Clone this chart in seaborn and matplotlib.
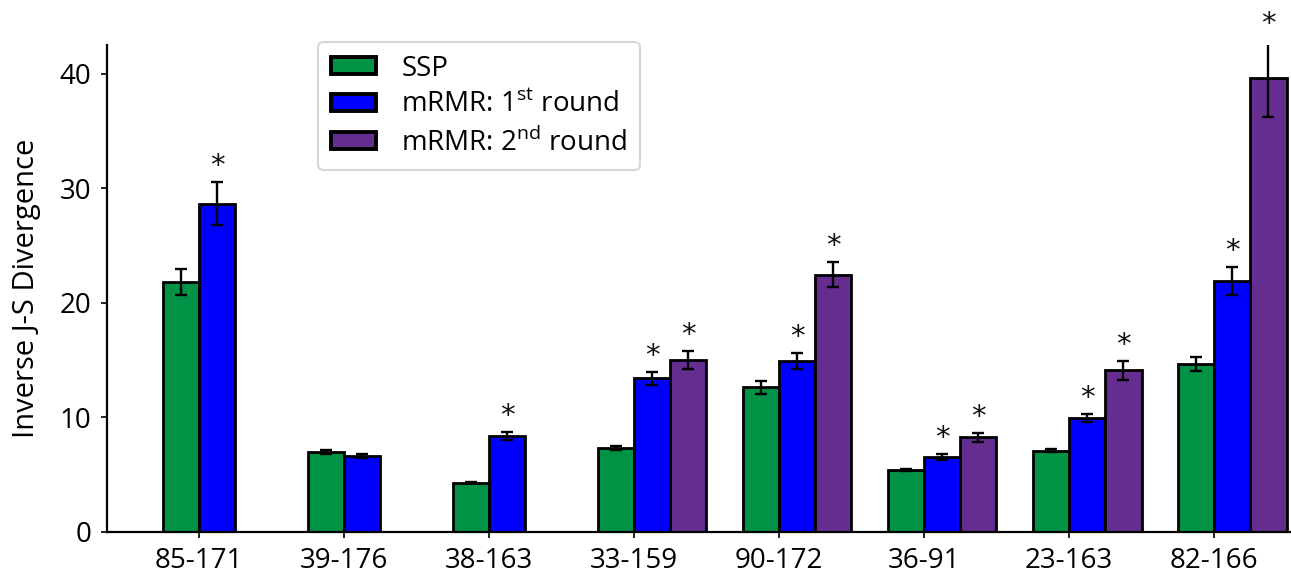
import numpy as np
import pandas as pd
import matplotlib
matplotlib.use("Agg")
import matplotlib.pyplot as plt
import matplotlib.colors as mcolors
import seaborn as sns
from matplotlib.patches import Patch

categories = ["85-171", "39-176", "38-163", "33-159", "90-172", "36-91", "23-163", "82-166"]
methods = ["SSP", "mRMR: 1st round", "mRMR: 2nd round"]
ssp_vals = [21.8, 6.96, 4.3, 7.33, 12.65, 5.38, 7.1, 14.65]
ssp_err = [1.15, 0.18, 0.06, 0.18, 0.57, 0.1, 0.15, 0.6]
r1_vals = [28.65, 6.66, 8.42, 13.4, 14.93, 6.57, 9.93, 21.9]
r1_err = [1.9, 0.18, 0.35, 0.6, 0.73, 0.27, 0.37, 1.25]
r2_vals = [np.nan, np.nan, np.nan, 15.0, 22.45, 8.27, 14.1, 39.6]
r2_err = [np.nan, np.nan, np.nan, 0.8, 1.1, 0.4, 0.86, 3.35]
r1_sig = [True, False, True, True, True, True, True, True]
r2_sig = [False, False, False, True, True, True, True, True]

colors = ["#009245", "#0000FF", "#662D91"]

rows = []
for i, c in enumerate(categories):
    for m, v, e, s in zip(methods,
                          [ssp_vals[i], r1_vals[i], r2_vals[i]],
                          [ssp_err[i], r1_err[i], r2_err[i]],
                          [False, r1_sig[i], r2_sig[i]]):
        if not np.isnan(v):
            rows.append(dict(pair=c, method=m, value=v, err=e, sig=s))
df = pd.DataFrame(rows)

sns.set_style("ticks")
plt.rcParams["font.family"] = ["Open Sans", "DejaVu Sans"]
plt.rcParams["mathtext.fontset"] = "custom"
plt.rcParams["mathtext.rm"] = "Open Sans"
for k in ["text.color", "axes.labelcolor", "xtick.color", "ytick.color"]:
    plt.rcParams[k] = "black"

FS = 20

fig = plt.figure(figsize=(12.91, 5.75), dpi=100)
ax = fig.add_axes([107/1291, 43/575, 1183/1291, 487/575])

sns.barplot(data=df, x="pair", y="value", hue="method", order=categories,
            hue_order=methods, palette=colors, width=0.75, dodge=True,
            errorbar=None, edgecolor="black", linewidth=2.0, saturation=1,
            legend=False, ax=ax)

# error bars and significance marks
rgb_list = [mcolors.to_rgb(c) for c in colors]
for bar in list(ax.patches):
    h = bar.get_height()
    if h == 0 or np.isnan(h):
        continue
    fc = bar.get_facecolor()[:3]
    dists = [sum((a - b) ** 2 for a, b in zip(fc, rc)) for rc in rgb_list]
    hi = int(np.argmin(dists))
    xc = bar.get_x() + bar.get_width() / 2
    ci = int(round(xc))
    sub = df[(df.method == methods[hi]) & (df.pair == categories[ci])]
    if sub.empty:
        continue
    r = sub.iloc[0]
    ax.errorbar(xc, r.value, yerr=r.err, fmt="none", ecolor="black",
                elinewidth=1.7, capsize=4, capthick=1.7, zorder=5)
    if r.sig:
        ax.text(xc, r.value + r.err + 0.15, "*", ha="center", va="bottom",
                fontsize=21, color="#111111", clip_on=False,
                family="DejaVu Sans")

shift = 0.125
ax.set_xticks(np.arange(len(categories)) - shift)
ax.set_xticklabels(categories)
ax.set_xlim(-0.634 - shift, len(categories) - 1 + 0.524 - shift)
ax.set_ylim(0, 42.5)
ax.set_yticks([0, 10, 20, 30, 40])
ax.tick_params(axis="both", labelsize=FS, width=1.2, length=4.5, color="black")
ax.tick_params(axis="x", pad=6)
ax.tick_params(axis="y", pad=7)
ax.set_xlabel("")
ax.set_ylabel("Inverse J-S Divergence", fontsize=21, labelpad=13)
sns.despine(ax=ax)
for s in ["left", "bottom"]:
    ax.spines[s].set_linewidth(1.6)
    ax.spines[s].set_color("black")

labels = ["SSP", "mRMR: 1$^{\\mathrm{st}}$ round", "mRMR: 2$^{\\mathrm{nd}}$ round"]
handles = [Patch(facecolor=c, edgecolor="black", linewidth=2.8) for c in colors]
leg = fig.legend(handles, labels, loc="upper left",
                 bbox_to_anchor=(318/1291, 1 - 42/575), fontsize=FS,
                 frameon=True, fancybox=True, handlelength=1.65,
                 handleheight=0.55, handletextpad=0.9, labelspacing=0.3,
                 borderpad=0.45, borderaxespad=0)
leg.get_frame().set_edgecolor("#cccccc")
leg.get_frame().set_linewidth(1.5)

fig.savefig("out.png", dpi=100)
